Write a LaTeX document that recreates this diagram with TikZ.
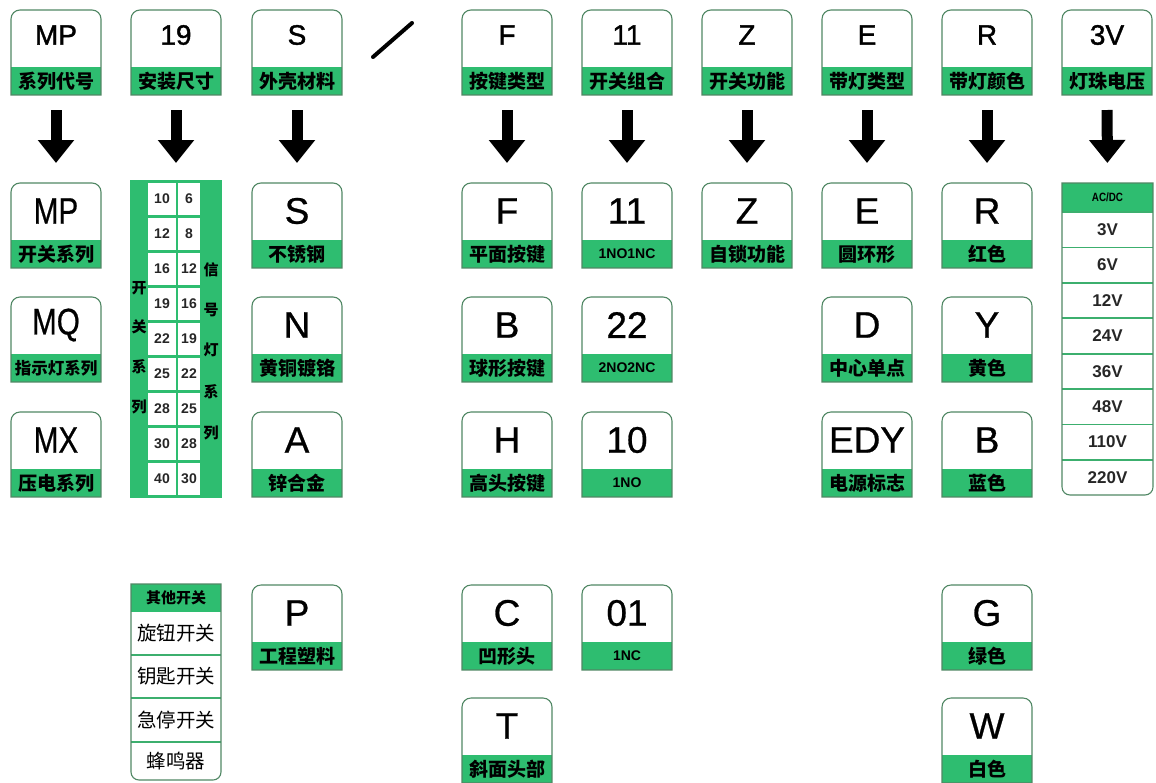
\documentclass[tikz,border=0pt]{standalone}
\usepackage{fontspec}
\usepackage{graphicx}
\setmainfont{Liberation Sans}
\newfontfamily\codef[FakeBold=0.7]{Liberation Sans}
\newfontfamily\codetf[FakeBold=1.4]{Liberation Sans}
\newfontfamily\cjk{Noto Sans CJK SC}
\usetikzlibrary{arrows.meta,calc}
\definecolor{bandgreen}{RGB}{46,189,112}
\definecolor{edgecol}{RGB}{80,135,100}
\definecolor{sepgreen}{RGB}{60,175,110}
\newcommand\cjkl{\cjk\bfseries\fontsize{19}{19}\selectfont}
\newcommand\cjks{\cjk\bfseries\fontsize{16.5}{17}\selectfont}
\newcommand\cjkm{\cjk\bfseries\fontsize{15}{15}\selectfont}
\newcommand\cjkt{\cjk\fontsize{19.5}{20}\selectfont}
\newcommand\latl{\bfseries\fontsize{14}{14}\selectfont}
\tikzset{
  frame/.style={minimum width=90pt, minimum height=85pt, inner sep=0pt, outer sep=0pt, anchor=north west},
  boxedge/.style={draw=edgecol, line width=1.1pt},
  codetop/.style={font=\codetf\fontsize{28}{28}\selectfont, inner sep=0pt, yshift=-25pt},
  codelow/.style={font=\codef\fontsize{37}{37}\selectfont, inner sep=0pt, yshift=-28pt},
  plain/.style={inner sep=0pt},
  cellnum/.style={font=\bfseries\fontsize{14}{14}\selectfont, text=black!85, inner sep=0pt},
  voltnum/.style={font=\bfseries\fontsize{17}{17}\selectfont, text=black!85, inner sep=0pt},
  vchar/.style={font=\cjkm, inner sep=0pt},
  downarrow/.style={line width=11pt, -{Triangle[width=35pt,length=23pt]}, shorten <=15pt, shorten >=20pt},
}
% #1 name, #2 x, #3 y, #4 code style, #5 code, #6 label
\newcommand\cbox[6]{%
  \node[frame] (#1) at (#2,#3) {};
  \fill[bandgreen] (#1.south west) rectangle ([yshift=28pt]#1.south east);
  \draw[boxedge] (#1.south west) -- ([yshift=-9pt]#1.north west)
     arc[start angle=180,end angle=90,radius=9pt] -- ([xshift=-9pt]#1.north east)
     arc[start angle=90,end angle=0,radius=9pt] -- (#1.south east) -- cycle;
  \node[#4] (#1c) at (#1.north) {#5};
  \node[plain] (#1l) at ([yshift=14pt]#1.south) {#6};
}
\begin{document}
\begin{tikzpicture}[x=1pt,y=-1pt]
\useasboundingbox (0,0) rectangle (1156,782);
% ---------- top row
\cbox{a0}{11}{10}{codetop}{MP}{\cjkl 系列代号}
\cbox{b0}{131}{10}{codetop}{19}{\cjkl 安装尺寸}
\cbox{c0}{252}{10}{codetop}{S}{\cjkl 外壳材料}
\cbox{d0}{462}{10}{codetop}{F}{\cjkl 按键类型}
\cbox{e0}{582}{10}{codetop}{11}{\cjkl 开关组合}
\cbox{f0}{702}{10}{codetop}{Z}{\cjkl 开关功能}
\cbox{g0}{822}{10}{codetop}{E}{\cjkl 带灯类型}
\cbox{h0}{942}{10}{codetop}{R}{\cjkl 带灯颜色}
\cbox{i0}{1062}{10}{codetop}{3V}{\cjkl 灯珠电压}
% slash
\coordinate (s1) at (373,57);
\coordinate (s2) at (412,23);
\draw[line width=4pt, line cap=round] (s1) -- (s2);
% ---------- row 1
\cbox{a1}{11}{183}{codelow}{\scalebox{0.8}[1]{MP}}{\cjkl 开关系列}
\cbox{c1}{252}{183}{codelow}{S}{\cjkl 不锈钢}
\cbox{d1}{462}{183}{codelow}{F}{\cjkl 平面按键}
\cbox{e1}{582}{183}{codelow}{11}{\latl 1NO1NC}
\cbox{f1}{702}{183}{codelow}{Z}{\cjkl 自锁功能}
\cbox{g1}{822}{183}{codelow}{E}{\cjkl 圆环形}
\cbox{h1}{942}{183}{codelow}{R}{\cjkl 红色}
% ---------- row 2
\cbox{a2}{11}{297}{codelow}{\scalebox{0.8}[1]{MQ}}{\cjks 指示灯系列}
\cbox{c2}{252}{297}{codelow}{N}{\cjkl 黄铜镀铬}
\cbox{d2}{462}{297}{codelow}{B}{\cjkl 球形按键}
\cbox{e2}{582}{297}{codelow}{22}{\latl 2NO2NC}
\cbox{g2}{822}{297}{codelow}{D}{\cjkl 中心单点}
\cbox{h2}{942}{297}{codelow}{Y}{\cjkl 黄色}
% ---------- row 3
\cbox{a3}{11}{412}{codelow}{\scalebox{0.8}[1]{MX}}{\cjkl 压电系列}
\cbox{c3}{252}{412}{codelow}{A}{\cjkl 锌合金}
\cbox{d3}{462}{412}{codelow}{H}{\cjkl 高头按键}
\cbox{e3}{582}{412}{codelow}{10}{\latl 1NO}
\cbox{g3}{822}{412}{codelow}{EDY}{\cjkl 电源标志}
\cbox{h3}{942}{412}{codelow}{B}{\cjkl 蓝色}
% ---------- row 4 / 5
\cbox{c4}{252}{585}{codelow}{P}{\cjkl 工程塑料}
\cbox{d4}{462}{585}{codelow}{C}{\cjkl 凹形头}
\cbox{e4}{582}{585}{codelow}{01}{\latl 1NC}
\cbox{h4}{942}{585}{codelow}{G}{\cjkl 绿色}
\cbox{d5}{462}{698}{codelow}{T}{\cjkl 斜面头部}
\cbox{h5}{942}{698}{codelow}{W}{\cjkl 白色}
% ---------- size table
\node[frame, minimum width=92pt, minimum height=318pt, fill=bandgreen] (t19) at (130,180) {};
\foreach \a/\b [count=\i from 0] in {10/6,12/8,16/12,19/16,22/19,25/22,28/25,30/28,40/30}{
  \fill[white] (148,183+35*\i) rectangle (176,215+35*\i);
  \fill[white] (178,183+35*\i) rectangle (200,215+35*\i);
  \node[cellnum] (n\i a) at (162,199+35*\i) {\a};
  \node[cellnum] (n\i b) at (189,199+35*\i) {\b};
}
\foreach \c/\y in {开/288,关/327,系/367,列/407}{\node[vchar] at (139,\y) {\c};}
\foreach \c/\y in {信/270,号/310,灯/350,系/392,列/433}{\node[vchar] at (211,\y) {\c};}
% ---------- voltage table
\node[frame, minimum width=91pt, minimum height=312pt] (tv) at (1062,183) {};
\fill[bandgreen] (tv.north west) rectangle ([yshift=-29pt]tv.north east);
\foreach \k in {1,...,7}{
  \draw[sepgreen, line width=1.8pt] (1062,212+35.4*\k) -- (1153,212+35.4*\k);
}
\draw[sepgreen, line width=1.2pt] (1062,212) -- (1153,212);
\draw[boxedge] ([yshift=8pt]tv.south west) arc[start angle=180,end angle=270,radius=8pt]
   -- ([xshift=-8pt]tv.south east) arc[start angle=270,end angle=360,radius=8pt]
   -- (tv.north east) -- (tv.north west) -- cycle;
\node[plain, font=\bfseries\fontsize{12}{12}\selectfont] (vh) at (1107.5,197.5) {\scalebox{0.82}[1]{AC/DC}};
\foreach \v [count=\k from 0] in {3V,6V,12V,24V,36V,48V,110V,220V}{
  \node[voltnum] (v\k) at (1107.5,229.7+35.4*\k) {\v};
}
% ---------- other switches table
\node[frame, minimum width=90pt, minimum height=196pt] (to) at (131,584) {};
\fill[bandgreen] (to.north west) rectangle ([yshift=-28pt]to.north east);
\foreach \y in {655,698,742}{\draw[sepgreen, line width=1.8pt] (131,\y) -- (221,\y);}
\draw[boxedge] ([yshift=8pt]to.south west) arc[start angle=180,end angle=270,radius=8pt]
   -- ([xshift=-8pt]to.south east) arc[start angle=270,end angle=360,radius=8pt]
   -- (to.north east) -- (to.north west) -- cycle;
\node[plain] (o0) at (176,598) {\cjkm 其他开关};
\node[plain] (o1) at (176,633.5) {\cjkt 旋钮开关};
\node[plain] (o2) at (176,676.5) {\cjkt 钥匙开关};
\node[plain] (o3) at (176,720) {\cjkt 急停开关};
\node[plain] (o4) at (176,761) {\cjkt 蜂鸣器};
% ---------- arrows
\draw[downarrow] (a0.south) -- (a1.north);
\draw[downarrow] (b0.south) -- ([yshift=-3pt]t19.north);
\draw[downarrow] (c0.south) -- (c1.north);
\draw[downarrow] (d0.south) -- (d1.north);
\draw[downarrow] (e0.south) -- (e1.north);
\draw[downarrow] (f0.south) -- (f1.north);
\draw[downarrow] (g0.south) -- (g1.north);
\draw[downarrow] (h0.south) -- (h1.north);
\draw[downarrow] (i0.south) -- (tv.north);
\end{tikzpicture}
\end{document}
